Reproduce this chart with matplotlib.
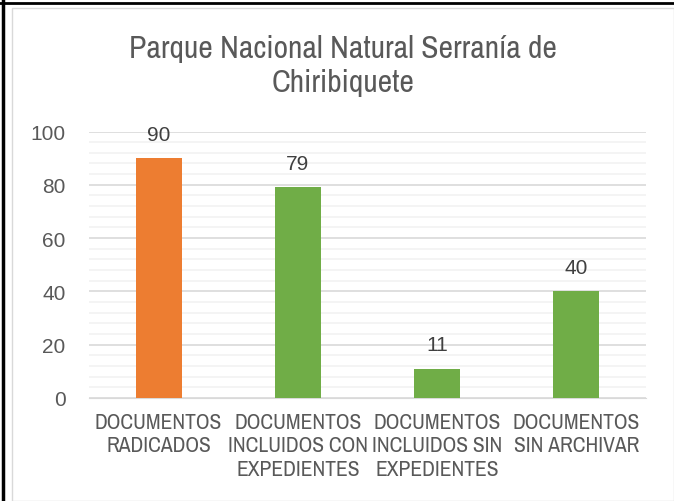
import numpy as np
import matplotlib.pyplot as plt
from matplotlib.patches import Rectangle
from matplotlib.lines import Line2D

categories = ['DOCUMENTOS\nRADICADOS',
              'DOCUMENTOS\nINCLUIDOS CON\nEXPEDIENTES',
              'DOCUMENTOS\nINCLUIDOS SIN\nEXPEDIENTES',
              'DOCUMENTOS\nSIN ARCHIVAR']
values = [90, 79, 11, 40]
colors = ['#ED7D31', '#70AD47', '#70AD47', '#70AD47']
title = 'Parque Nacional Natural Serranía de\nChiribiquete'

narrow = ['Archivo Narrow', 'DejaVu Sans']
regular = ['Liberation Sans', 'DejaVu Sans']
plt.rcParams['font.family'] = regular
txt = '#595959'

fig = plt.figure(figsize=(6.74, 5.02), dpi=100)
W, H = 674, 502

# chart frame and outer black borders
fig.patches.append(Rectangle((12 / W, 0), 1 - 12 / W, 1 - 9 / H, transform=fig.transFigure,
                             facecolor='white', edgecolor='#D9D9D9', lw=1, zorder=-5))
fig.lines.append(Line2D([3 / W, 3 / W], [0, 1], transform=fig.transFigure, color='black', lw=2.5))
fig.lines.append(Line2D([0, 1], [1 - 4 / H, 1 - 4 / H], transform=fig.transFigure, color='black', lw=2))

ax = fig.add_axes([89 / W, 1 - 399 / H, (646 - 89) / W, (399 - 132.5) / H])
x = np.arange(len(values))
ax.bar(x, values, width=0.33, color=colors, zorder=3)
for xi, v in zip(x, values):
    ax.annotate(str(v), (xi, v), xytext=(0, 10.5), textcoords='offset points',
                ha='center', va='bottom', fontsize=15, color='#404040')

ax.set_xlim(-0.5, len(values) - 0.5)
ax.set_ylim(0, 100)
ax.set_yticks(np.arange(0, 101, 20))
ax.set_yticks(np.arange(0, 101, 4), minor=True)
ax.grid(axis='y', which='major', color='#D9D9D9', lw=1.2, zorder=0)
ax.grid(axis='y', which='minor', color='#F2F2F2', lw=1.2, zorder=0)
ax.tick_params(axis='y', which='both', length=0, labelsize=15, labelcolor=txt, pad=17)
ax.set_xticks(x)
ax.set_xticklabels(categories, fontsize=15.5, color=txt, linespacing=1.22, family=narrow)
ax.tick_params(axis='x', length=0, pad=10)
for s in ['top', 'right', 'left']:
    ax.spines[s].set_visible(False)
ax.spines['bottom'].set_color('#D9D9D9')
ax.set_facecolor('none')

fig.text(343 / W, 1 - 66 / H, title, ha='center', va='center', fontsize=22.8,
         family=narrow, color=txt, linespacing=1.3)

fig.savefig('out.png', dpi=100)
